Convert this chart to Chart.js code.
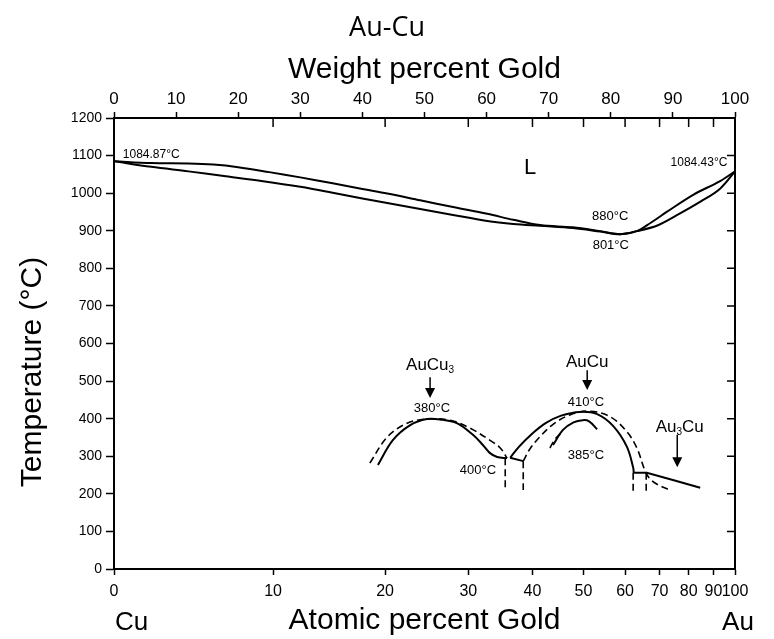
<!DOCTYPE html>
<html>
<head>
<meta charset="utf-8">
<title>Au-Cu</title>
<script src="https://cdn.jsdelivr.net/npm/chart.js@4.4.0/dist/chart.umd.min.js"></script>
<style>
  html, body { margin: 0; padding: 0; background: #fff; }
  #wrap { width: 774px; height: 639px; }
</style>
</head>
<body>
<div id="wrap"><canvas id="chart"></canvas></div>
<script>
// x values are weight percent gold, y values are °C
const atomicTicks = [0, 10, 20, 30, 40, 50, 60, 70, 80, 90, 100];
const tempTicks = [100, 200, 300, 400, 500, 600, 700, 800, 900, 1000, 1100];

const liquidus = [[0,1084.87],[6,1080],[12,1079],[16,1076],[20,1069],[25,1056],[30,1042],[35,1027],[40,1011],[44.0,999],[49.3,981],[54.6,963],[60.1,945],[64.3,929],[68.6,915],[73.9,909],[78.3,899],[81.5,891],[84.2,899],[86.5,922],[89.0,950],[93.2,995],[97.6,1032],[100,1058]];
const solidus = [[0,1084.87],[6,1070],[12,1058],[18,1045],[24,1032],[30,1017],[35,1002],[40,986],[44.0,974],[49.3,958],[54.6,942],[60.1,926],[64.3,918],[68.6,913],[73.9,907],[78.3,898],[81.5,891],[84.2,899],[87.5,914],[90.5,940],[94.5,978],[97.6,1012],[100,1058]];

const aucu3Solid = [[42.5,277],[44.9,343],[47.7,383],[50.4,399],[52.5,398],[55.2,388],[57.8,357],[59.4,330],[60.5,309],[61.7,298],[63.3,295]];
const aucu3Dashed = [[41.2,282],[44.0,351],[47.2,388],[50.4,399],[54.1,396],[57.3,375],[60.5,343],[62.2,322],[63.3,295]];

const aucuSolid = [[63.8,296],[65.2,325],[67.2,358],[69.5,388],[72.0,408],[75.0,418],[77.8,412],[80.4,380],[82.6,325],[83.6,270],[83.7,256]];
const aucuDashed = [[65.9,287],[67.0,320],[68.6,352],[70.7,385],[73.4,410],[76.5,420],[79.9,405],[82.6,365],[84.2,322],[85.5,262],[86.3,240],[87.6,224],[89.5,210]];
const aucuJoin = [[63.8,296],[65.9,287]];
const aucuInner = [[70.7,330],[72.3,370],[74.0,390],[75.5,396],[76.5,393],[77.8,372]];
const aucuInnerDash = [[70.2,322],[71.0,345],[72.0,362]];

const au3cuSolid = [[83.7,256],[85.8,256],[90.0,237],[94.4,216]];

const dropA = [[63.0,295],[63.0,210]];
const dropB = [[65.9,287],[65.9,210]];
const dropC = [[83.6,256],[83.6,205]];
const dropD = [[85.7,256],[85.7,205]];

// convert atomic % Au to weight % Au
const MASS_AU = 196.97, MASS_CU = 63.55;
function atToWt(a) {
  return 100 * a * MASS_AU / (a * MASS_AU + (100 - a) * MASS_CU);
}

function line(pts, dashed, tension) {
  return {
    data: pts.map(p => ({ x: p[0], y: p[1] })),
    showLine: true,
    borderColor: "#000",
    borderWidth: dashed ? 1.6 : 2,
    borderDash: dashed ? [7, 4] : [],
    pointRadius: 0,
    tension: tension === undefined ? 0.35 : tension
  };
}

// text notes and arrows on the plot, in data units
const notes = [
  { parts: [["1084.87°C"]], wt: 6.0, t: 1102, size: 12 },
  { parts: [["1084.43°C"]], wt: 94.2, t: 1081, size: 12 },
  { parts: [["L"]], wt: 67.0, t: 1067, size: 22 },
  { parts: [["880°C"]], wt: 79.9, t: 939, size: 13 },
  { parts: [["801°C"]], wt: 80.0, t: 862, size: 13 },
  { parts: [["AuCu"], ["3", 1]], wt: 50.9, t: 543, size: 17 },
  { parts: [["380°C"]], wt: 51.2, t: 426, size: 13 },
  { parts: [["400°C"]], wt: 58.6, t: 261, size: 13 },
  { parts: [["AuCu"]], wt: 76.2, t: 551, size: 17 },
  { parts: [["410°C"]], wt: 76.0, t: 444, size: 13 },
  { parts: [["385°C"]], wt: 76.0, t: 301, size: 13 },
  { parts: [["Au"], ["3", 1], ["Cu"]], wt: 91.1, t: 378, size: 17 }
];
const arrows = [
  { wt: 50.9, from: 510, to: 455 },
  { wt: 76.2, from: 529, to: 476 },
  { wt: 90.7, from: 357, to: 271 }
];

const FONT = "'Liberation Sans', Arial, sans-serif";
Chart.defaults.font.family = FONT;
Chart.defaults.color = "#000";

const overlay = {
  id: "overlay",
  afterDraw(chart) {
    const ctx = chart.ctx;
    const xs = chart.scales.x, ys = chart.scales.y;
    const area = chart.chartArea;
    ctx.save();
    ctx.strokeStyle = "#000";
    ctx.fillStyle = "#000";
    ctx.lineWidth = 1.5;

    // inward ticks: atomic positions on top edge, temperatures on right edge
    ctx.beginPath();
    atomicTicks.slice(1, -1).forEach(a => {
      const px = xs.getPixelForValue(atToWt(a));
      ctx.moveTo(px, area.top);
      ctx.lineTo(px, area.top + 9);
    });
    tempTicks.forEach(t => {
      const py = ys.getPixelForValue(t);
      ctx.moveTo(area.right - 8, py);
      ctx.lineTo(area.right, py);
    });
    ctx.stroke();

    // notes
    ctx.textBaseline = "middle";
    notes.forEach(n => {
      const px = xs.getPixelForValue(n.wt);
      const py = ys.getPixelForValue(n.t);
      const subSize = Math.round(n.size * 0.6);
      let total = 0;
      n.parts.forEach(p => {
        ctx.font = (p[1] ? subSize : n.size) + "px " + FONT;
        total += ctx.measureText(p[0]).width;
      });
      let cx = px - total / 2;
      ctx.textAlign = "left";
      n.parts.forEach(p => {
        ctx.font = (p[1] ? subSize : n.size) + "px " + FONT;
        ctx.fillText(p[0], cx, p[1] ? py + n.size * 0.3 : py);
        cx += ctx.measureText(p[0]).width;
      });
    });

    // arrows
    arrows.forEach(a => {
      const px = xs.getPixelForValue(a.wt);
      const y1 = ys.getPixelForValue(a.from);
      const y2 = ys.getPixelForValue(a.to);
      ctx.beginPath();
      ctx.moveTo(px, y1);
      ctx.lineTo(px, y2 - 9);
      ctx.stroke();
      ctx.beginPath();
      ctx.moveTo(px - 5, y2 - 10);
      ctx.lineTo(px + 5, y2 - 10);
      ctx.lineTo(px, y2);
      ctx.closePath();
      ctx.fill();
    });

    // y axis title and end-member labels
    ctx.font = "30px " + FONT;
    ctx.textAlign = "center";
    ctx.save();
    ctx.translate(33, 372);
    ctx.rotate(-Math.PI / 2);
    ctx.fillText("Temperature (°C)", 0, 0);
    ctx.restore();

    ctx.font = "26px " + FONT;
    ctx.textAlign = "left";
    ctx.fillText("Cu", xs.getPixelForValue(0) + 1, 623);
    ctx.textAlign = "center";
    ctx.fillText("Au", xs.getPixelForValue(100) + 3, 623);
    ctx.restore();
  }
};

new Chart(document.getElementById("chart"), {
  type: "scatter",
  data: {
    datasets: [
      line(liquidus),
      line(solidus),
      line(aucu3Solid),
      line(aucu3Dashed, true),
      line(aucuSolid),
      line(aucuDashed, true),
      line(aucuJoin, false, 0),
      line(aucuInner),
      line(aucuInnerDash, true),
      line(au3cuSolid, false, 0),
      line(dropA, true, 0),
      line(dropB, true, 0),
      line(dropC, true, 0),
      line(dropD, true, 0)
    ]
  },
  options: {
    responsive: true,
    maintainAspectRatio: false,
    animation: false,
    layout: { padding: 0 },
    plugins: {
      legend: { display: false },
      tooltip: { enabled: false },
      title: {
        display: true,
        text: "Au-Cu",
        color: "#000",
        font: { family: "'Open Sans', sans-serif", size: 27, weight: "normal" },
        padding: { top: 12, bottom: 0 }
      }
    },
    scales: {
      x: {
        type: "linear",
        position: "bottom",
        min: 0,
        max: 100,
        afterBuildTicks(s) {
          s.ticks = atomicTicks.map(a => ({ value: atToWt(a) }));
        },
        ticks: {
          autoSkip: false,
          maxRotation: 0,
          color: "#000",
          font: { size: 16 },
          padding: 7,
          callback: (v, i) => atomicTicks[i]
        },
        grid: { drawOnChartArea: false, tickLength: 6, color: "#000", tickWidth: 1.5 },
        border: { color: "#000", width: 2 },
        title: {
          display: true,
          text: "Atomic percent Gold",
          color: "#000",
          font: { size: 30 },
          padding: { top: 0, bottom: 0 }
        },
        afterFit(s) { s.height = 70; }
      },
      xTop: {
        type: "linear",
        position: "top",
        min: 0,
        max: 100,
        ticks: { stepSize: 10, maxRotation: 0, color: "#000", font: { size: 17 }, padding: 2 },
        grid: { drawOnChartArea: false, tickLength: 6, color: "#000", tickWidth: 1.5 },
        border: { color: "#000", width: 2 },
        title: {
          display: true,
          text: "Weight percent Gold",
          color: "#000",
          font: { size: 30 },
          padding: { top: 7, bottom: 0 }
        },
        afterFit(s) { s.height = 73.6; }
      },
      y: {
        position: "left",
        min: 0,
        max: 1200,
        ticks: { stepSize: 100, color: "#000", font: { size: 14 }, padding: 4, callback: v => String(v) },
        grid: { drawOnChartArea: false, tickLength: 8, color: "#000", tickWidth: 1.5 },
        border: { color: "#000", width: 2 },
        afterFit(s) { s.width = 114; }
      },
      yRight: {
        position: "right",
        min: 0,
        max: 1200,
        ticks: { display: false },
        grid: { drawOnChartArea: false, drawTicks: false },
        border: { color: "#000", width: 2 },
        afterFit(s) { s.width = 39; }
      }
    }
  },
  plugins: [overlay]
});
</script>
</body>
</html>
